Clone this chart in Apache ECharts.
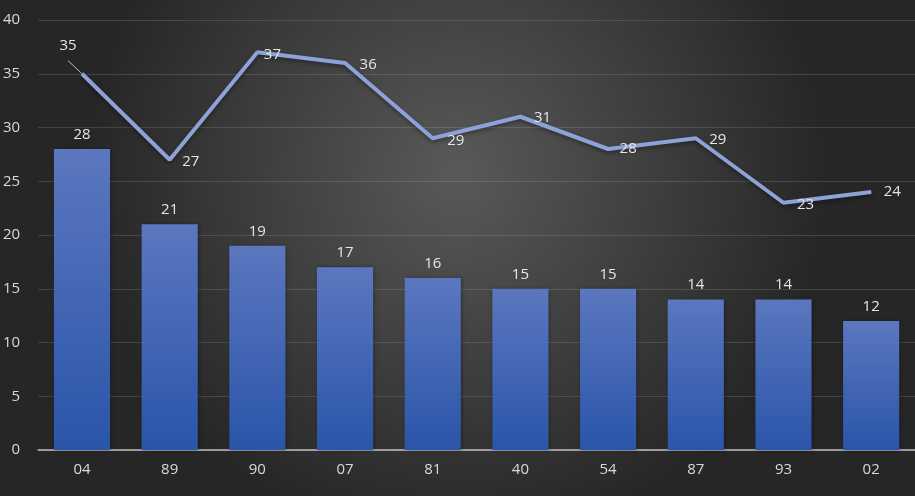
<!DOCTYPE html>
<html><head><meta charset="utf-8">
<script src="https://cdn.jsdelivr.net/npm/echarts@6/dist/echarts.min.js"></script>
<style>html,body{margin:0;padding:0;background:#333}#c{width:915px;height:496px}</style>
</head><body><div id="c"></div>
<script>
var categories = ['04','89','90','07','81','40','54','87','93','02'];
var barValues = [28,21,19,17,16,15,15,14,14,12];
var lineValues = [35,27,37,36,29,31,28,29,23,24];
var yTicks = [0,5,10,15,20,25,30,35,40];

var lineLabelOffsets = [[-35,-28],[0,2],[-6,2],[2,2],[2,2],[1,1],[-1,0],[1,1],[1,2],[0,0]];
var chart = echarts.init(document.getElementById('c'));
chart.setOption({
  backgroundColor: {type:'radial', x:0.5, y:0.35, r:0.75, colorStops:[{offset:0,color:'#595959'},{offset:1,color:'#262626'}]},
  textStyle:{fontFamily:'Open Sans, Noto Sans, sans-serif'},
  grid:{left:38, right:0, top:20, bottom:46},
  xAxis:{type:'category', data:categories,
    axisLine:{lineStyle:{color:'#bfbfbf', width:1.5}}, axisTick:{show:false},
    axisLabel:{color:'#d9d9d9', fontSize:15, margin:12}},
  yAxis:{type:'value', min:yTicks[0], max:yTicks[yTicks.length-1], interval:5,
    axisLine:{show:false}, axisTick:{show:false},
    splitLine:{lineStyle:{color:'rgba(255,255,255,0.13)', width:1}},
    axisLabel:{color:'#d9d9d9', fontSize:15, margin:18}},
  series:[
    {type:'bar', data:barValues, barWidth:'64%',
     itemStyle:{color:{type:'linear',x:0,y:0,x2:0,y2:1,colorStops:[{offset:0,color:'#5b77bf'},{offset:1,color:'#2a55a9'}]},
       shadowColor:'rgba(0,0,0,0.35)', shadowBlur:4, shadowOffsetX:1},
     label:{show:true, position:'top', color:'#e6e6e6', fontSize:15, distance:7}},
    {type:'line', data:lineValues.map(function(v,i){
        var d = {value:v, label:{offset:lineLabelOffsets[i]}};
        if (i === 0) d.labelLine = {show:true, lineStyle:{color:'#bfbfbf', width:1}};
        return d;}),
     symbol:'circle', symbolSize:1, showSymbol:true, itemStyle:{color:'#8ea1d8'},
     lineStyle:{color:'#8ea1d8', width:4, shadowColor:'rgba(0,0,0,0.4)', shadowBlur:4, shadowOffsetY:2},
     label:{show:true, position:'right', color:'#e6e6e6', fontSize:15, distance:12},
     labelLine:{show:false}}
  ]
});
</script></body></html>
